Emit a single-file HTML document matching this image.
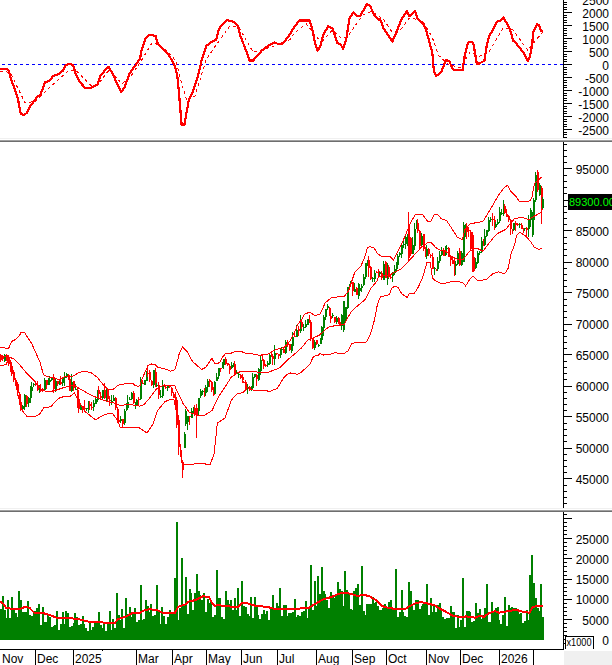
<!DOCTYPE html><html><head><meta charset="utf-8"><style>html,body{margin:0;padding:0;background:#fff;width:612px;height:665px;overflow:hidden}svg{display:block}text{font-family:"Liberation Sans",sans-serif}</style></head><body>
<svg width="612" height="665" viewBox="0 0 612 665">
<rect width="612" height="665" fill="#fff"/>
<defs><clipPath id="c1"><rect x="0" y="0" width="563" height="138"/></clipPath><clipPath id="c2"><rect x="0" y="142" width="563" height="366"/></clipPath><clipPath id="c3"><rect x="0" y="512" width="563" height="137"/></clipPath></defs>
<g clip-path="url(#c1)">
<line x1="2" y1="64.5" x2="563" y2="64.5" stroke="#0000ff" stroke-width="1" stroke-dasharray="3 3" shape-rendering="crispEdges"/>
<polyline points="0.0,71.4 4.5,71.4 10.8,73.2 16.2,85.0 25.3,103.0 36.1,101.2 50.5,86.8 68.6,70.5 75.8,70.5 90.3,85.0 97.5,85.0 105.8,74.2 109.4,69.6 122.0,84.0 131.0,76.0 141.9,59.7 152.8,41.7 167.2,50.7 176.2,61.5 181.6,83.2 187.0,101.2 195.0,95.8 199.0,83.0 206.2,59.6 213.5,48.7 229.7,26.2 238.7,27.1 253.2,52.3 265.8,48.7 276.6,45.1 290.0,39.7 294.8,32.7 306.2,23.7 317.7,38.4 322.6,40.8 332.4,30.2 340.6,37.6 347.1,37.6 353.6,27.8 363.4,14.7 371.6,11.4 383.0,18.8 391.4,31.0 399.6,31.0 409.4,18.0 422.5,20.4 432.3,37.6 438.8,55.6 448.6,64.5 460.0,67.8 469.9,52.3 479.1,56.2 488.2,53.2 503.4,27.4 512.6,29.6 527.8,50.2 541.4,33.4" fill="none" stroke="#ff0000" stroke-width="1" stroke-dasharray="3 3" shape-rendering="crispEdges"/>
<polyline points="0.0,68.7 7.2,68.7 9.0,71.4 11.7,81.4 15.3,90.4 18.0,99.4 20.8,113.9 23.5,114.8 27.0,113.0 29.8,106.6 33.4,102.1 37.9,95.8 39.7,96.7 45.1,82.3 49.6,80.5 53.2,76.0 58.7,74.2 63.2,70.5 65.0,66.0 69.5,63.7 73.1,65.1 75.8,74.2 79.4,81.4 84.8,87.7 91.2,87.7 95.0,85.9 97.7,84.1 100.4,76.0 104.0,71.4 108.5,66.9 113.0,74.2 117.6,85.0 121.2,92.2 124.8,86.8 129.3,74.2 132.9,68.7 140.1,58.8 141.0,52.5 145.5,38.0 149.2,34.8 155.5,35.9 158.2,44.4 163.6,49.8 169.0,55.2 174.4,65.1 177.1,74.2 178.9,92.2 181.6,124.7 184.4,124.7 188.9,99.4 192.5,92.2 195.4,83.9 199.0,72.2 201.7,59.6 206.2,46.0 211.7,41.9 216.2,39.7 218.9,28.9 223.4,23.5 227.0,20.2 233.3,21.7 237.8,26.2 240.5,36.1 246.0,50.5 249.6,60.5 253.2,60.5 258.6,54.2 262.2,50.2 269.4,45.1 274.8,42.4 278.4,44.2 283.0,43.3 289.9,34.3 294.8,26.1 299.7,20.4 309.5,20.4 312.8,31.0 315.2,44.1 317.7,50.7 320.1,46.6 323.4,34.3 328.3,26.1 332.4,28.6 337.3,43.3 340.6,44.1 343.0,49.0 346.3,39.2 349.5,18.0 353.6,12.3 356.9,16.3 360.2,16.3 366.7,4.1 370.0,5.7 374.9,16.3 379.0,19.6 380.0,18.8 383.3,27.8 388.2,35.1 392.3,41.7 396.3,32.7 401.2,19.6 407.0,11.1 409.4,16.3 415.1,11.1 417.6,18.8 422.5,22.9 425.8,28.6 429.0,40.8 432.3,52.3 433.9,71.9 436.4,76.0 441.3,71.9 446.2,59.6 449.4,61.3 452.7,69.4 456.8,70.3 462.5,70.3 465.0,53.9 468.2,42.5 472.3,41.7 473.8,45.6 476.8,63.8 479.1,63.5 484.4,60.8 486.7,45.6 489.0,36.5 492.0,31.2 496.6,22.0 500.4,20.5 503.4,17.5 506.5,22.8 510.3,30.4 513.3,41.0 515.6,42.6 523.2,52.4 527.8,60.8 530.0,56.2 532.3,44.1 533.1,31.9 536.9,24.3 539.1,25.1 540.7,30.4 543.0,31.9" fill="none" stroke="#ff0000" stroke-width="2.2" stroke-linejoin="round" shape-rendering="crispEdges"/>
</g>
<g clip-path="url(#c2)" shape-rendering="crispEdges">
<rect x="0" y="354" width="1" height="8" fill="#ff0000"/>
<rect x="-0.5" y="355" width="2" height="5" fill="#ff0000"/>
<rect x="2" y="355" width="1" height="6" fill="#ff0000"/>
<rect x="1.5" y="356" width="2" height="3" fill="#ff0000"/>
<rect x="4" y="354" width="1" height="8" fill="#008000"/>
<rect x="3.5" y="355" width="2" height="6" fill="#008000"/>
<rect x="6" y="354" width="1" height="7" fill="#ff0000"/>
<rect x="5.5" y="355" width="2" height="5" fill="#ff0000"/>
<rect x="8" y="355" width="1" height="11" fill="#ff0000"/>
<rect x="7.5" y="357" width="2" height="7" fill="#ff0000"/>
<rect x="10" y="360" width="1" height="12" fill="#ff0000"/>
<rect x="9.5" y="362" width="2" height="8" fill="#ff0000"/>
<rect x="11" y="364" width="1" height="12" fill="#ff0000"/>
<rect x="10.5" y="366" width="2" height="8" fill="#ff0000"/>
<rect x="13" y="370" width="1" height="12" fill="#ff0000"/>
<rect x="12.5" y="372" width="2" height="8" fill="#ff0000"/>
<rect x="15" y="378" width="1" height="8" fill="#ff0000"/>
<rect x="14.5" y="380" width="2" height="5" fill="#ff0000"/>
<rect x="17" y="382" width="1" height="14" fill="#ff0000"/>
<rect x="16.5" y="384" width="2" height="9" fill="#ff0000"/>
<rect x="19" y="392" width="1" height="13" fill="#ff0000"/>
<rect x="18.5" y="394" width="2" height="8" fill="#ff0000"/>
<rect x="20" y="397" width="1" height="14" fill="#ff0000"/>
<rect x="19.5" y="402" width="2" height="8" fill="#ff0000"/>
<rect x="22" y="405" width="1" height="4" fill="#008000"/>
<rect x="21.5" y="406" width="2" height="3" fill="#008000"/>
<rect x="24" y="394" width="1" height="16" fill="#008000"/>
<rect x="23.5" y="395" width="2" height="12" fill="#008000"/>
<rect x="26" y="395" width="1" height="12" fill="#ff0000"/>
<rect x="25.5" y="396" width="2" height="8" fill="#ff0000"/>
<rect x="28" y="397" width="1" height="10" fill="#008000"/>
<rect x="27.5" y="398" width="2" height="5" fill="#008000"/>
<rect x="30" y="386" width="1" height="17" fill="#008000"/>
<rect x="29.5" y="390" width="2" height="8" fill="#008000"/>
<rect x="31" y="382" width="1" height="9" fill="#008000"/>
<rect x="30.5" y="387" width="2" height="4" fill="#008000"/>
<rect x="33" y="383" width="1" height="4" fill="#008000"/>
<rect x="32.5" y="384" width="2" height="1" fill="#008000"/>
<rect x="35" y="381" width="1" height="5" fill="#ff0000"/>
<rect x="34.5" y="384" width="2" height="1" fill="#ff0000"/>
<rect x="37" y="381" width="1" height="10" fill="#ff0000"/>
<rect x="36.5" y="386" width="2" height="4" fill="#ff0000"/>
<rect x="39" y="385" width="1" height="8" fill="#008000"/>
<rect x="38.5" y="390" width="2" height="1" fill="#008000"/>
<rect x="40" y="384" width="1" height="8" fill="#ff0000"/>
<rect x="39.5" y="390" width="2" height="1" fill="#ff0000"/>
<rect x="42" y="388" width="1" height="4" fill="#ff0000"/>
<rect x="41.5" y="389" width="2" height="1" fill="#ff0000"/>
<rect x="44" y="378" width="1" height="12" fill="#008000"/>
<rect x="43.5" y="380" width="2" height="10" fill="#008000"/>
<rect x="46" y="380" width="1" height="9" fill="#ff0000"/>
<rect x="45.5" y="380" width="2" height="5" fill="#ff0000"/>
<rect x="48" y="378" width="1" height="7" fill="#008000"/>
<rect x="47.5" y="381" width="2" height="4" fill="#008000"/>
<rect x="49" y="376" width="1" height="7" fill="#008000"/>
<rect x="48.5" y="380" width="2" height="2" fill="#008000"/>
<rect x="51" y="378" width="1" height="3" fill="#008000"/>
<rect x="50.5" y="378" width="2" height="2" fill="#008000"/>
<rect x="53" y="374" width="1" height="19" fill="#ff0000"/>
<rect x="52.5" y="377" width="2" height="12" fill="#ff0000"/>
<rect x="55" y="378" width="1" height="14" fill="#008000"/>
<rect x="54.5" y="381" width="2" height="9" fill="#008000"/>
<rect x="57" y="381" width="1" height="5" fill="#ff0000"/>
<rect x="56.5" y="381" width="2" height="3" fill="#ff0000"/>
<rect x="59" y="380" width="1" height="5" fill="#008000"/>
<rect x="58.5" y="381" width="2" height="3" fill="#008000"/>
<rect x="60" y="376" width="1" height="9" fill="#ff0000"/>
<rect x="59.5" y="382" width="2" height="2" fill="#ff0000"/>
<rect x="62" y="378" width="1" height="8" fill="#008000"/>
<rect x="61.5" y="378" width="2" height="5" fill="#008000"/>
<rect x="64" y="372" width="1" height="14" fill="#008000"/>
<rect x="63.5" y="377" width="2" height="1" fill="#008000"/>
<rect x="66" y="373" width="1" height="5" fill="#008000"/>
<rect x="65.5" y="374" width="2" height="3" fill="#008000"/>
<rect x="68" y="374" width="1" height="6" fill="#ff0000"/>
<rect x="67.5" y="375" width="2" height="4" fill="#ff0000"/>
<rect x="69" y="377" width="1" height="14" fill="#ff0000"/>
<rect x="68.5" y="379" width="2" height="12" fill="#ff0000"/>
<rect x="71" y="374" width="1" height="18" fill="#008000"/>
<rect x="70.5" y="382" width="2" height="9" fill="#008000"/>
<rect x="73" y="381" width="1" height="10" fill="#ff0000"/>
<rect x="72.5" y="381" width="2" height="7" fill="#ff0000"/>
<rect x="75" y="384" width="1" height="6" fill="#008000"/>
<rect x="74.5" y="389" width="2" height="1" fill="#008000"/>
<rect x="77" y="387" width="1" height="21" fill="#ff0000"/>
<rect x="76.5" y="390" width="2" height="11" fill="#ff0000"/>
<rect x="78" y="397" width="1" height="16" fill="#ff0000"/>
<rect x="77.5" y="399" width="2" height="10" fill="#ff0000"/>
<rect x="80" y="405" width="1" height="5" fill="#008000"/>
<rect x="79.5" y="406" width="2" height="4" fill="#008000"/>
<rect x="82" y="406" width="1" height="7" fill="#ff0000"/>
<rect x="81.5" y="406" width="2" height="2" fill="#ff0000"/>
<rect x="84" y="400" width="1" height="12" fill="#ff0000"/>
<rect x="83.5" y="408" width="2" height="1" fill="#ff0000"/>
<rect x="86" y="408" width="1" height="3" fill="#008000"/>
<rect x="85.5" y="408" width="2" height="1" fill="#008000"/>
<rect x="88" y="401" width="1" height="12" fill="#008000"/>
<rect x="87.5" y="405" width="2" height="4" fill="#008000"/>
<rect x="89" y="401" width="1" height="9" fill="#ff0000"/>
<rect x="88.5" y="404" width="2" height="2" fill="#ff0000"/>
<rect x="91" y="402" width="1" height="8" fill="#ff0000"/>
<rect x="90.5" y="407" width="2" height="1" fill="#ff0000"/>
<rect x="93" y="400" width="1" height="11" fill="#008000"/>
<rect x="92.5" y="403" width="2" height="4" fill="#008000"/>
<rect x="95" y="396" width="1" height="8" fill="#008000"/>
<rect x="94.5" y="399" width="2" height="5" fill="#008000"/>
<rect x="97" y="390" width="1" height="12" fill="#008000"/>
<rect x="96.5" y="390" width="2" height="10" fill="#008000"/>
<rect x="98" y="386" width="1" height="12" fill="#ff0000"/>
<rect x="97.5" y="390" width="2" height="4" fill="#ff0000"/>
<rect x="100" y="392" width="1" height="6" fill="#ff0000"/>
<rect x="99.5" y="396" width="2" height="2" fill="#ff0000"/>
<rect x="102" y="390" width="1" height="9" fill="#008000"/>
<rect x="101.5" y="390" width="2" height="8" fill="#008000"/>
<rect x="104" y="383" width="1" height="16" fill="#ff0000"/>
<rect x="103.5" y="390" width="2" height="8" fill="#ff0000"/>
<rect x="106" y="388" width="1" height="13" fill="#008000"/>
<rect x="105.5" y="389" width="2" height="10" fill="#008000"/>
<rect x="107" y="389" width="1" height="13" fill="#ff0000"/>
<rect x="106.5" y="390" width="2" height="9" fill="#ff0000"/>
<rect x="109" y="396" width="1" height="10" fill="#ff0000"/>
<rect x="108.5" y="400" width="2" height="1" fill="#ff0000"/>
<rect x="111" y="395" width="1" height="10" fill="#008000"/>
<rect x="110.5" y="401" width="2" height="1" fill="#008000"/>
<rect x="113" y="395" width="1" height="6" fill="#008000"/>
<rect x="112.5" y="398" width="2" height="3" fill="#008000"/>
<rect x="115" y="397" width="1" height="13" fill="#ff0000"/>
<rect x="114.5" y="398" width="2" height="10" fill="#ff0000"/>
<rect x="117" y="407" width="1" height="16" fill="#ff0000"/>
<rect x="116.5" y="409" width="2" height="12" fill="#ff0000"/>
<rect x="118" y="418" width="1" height="6" fill="#ff0000"/>
<rect x="117.5" y="420" width="2" height="2" fill="#ff0000"/>
<rect x="120" y="416" width="1" height="7" fill="#008000"/>
<rect x="119.5" y="419" width="2" height="2" fill="#008000"/>
<rect x="122" y="419" width="1" height="8" fill="#ff0000"/>
<rect x="121.5" y="419" width="2" height="5" fill="#ff0000"/>
<rect x="124" y="409" width="1" height="16" fill="#008000"/>
<rect x="123.5" y="411" width="2" height="12" fill="#008000"/>
<rect x="126" y="403" width="1" height="8" fill="#008000"/>
<rect x="125.5" y="407" width="2" height="3" fill="#008000"/>
<rect x="127" y="395" width="1" height="13" fill="#008000"/>
<rect x="126.5" y="402" width="2" height="6" fill="#008000"/>
<rect x="129" y="397" width="1" height="3" fill="#008000"/>
<rect x="128.5" y="399" width="2" height="1" fill="#008000"/>
<rect x="131" y="392" width="1" height="8" fill="#008000"/>
<rect x="130.5" y="393" width="2" height="6" fill="#008000"/>
<rect x="133" y="391" width="1" height="13" fill="#ff0000"/>
<rect x="132.5" y="393" width="2" height="10" fill="#ff0000"/>
<rect x="135" y="402" width="1" height="7" fill="#008000"/>
<rect x="134.5" y="403" width="2" height="1" fill="#008000"/>
<rect x="136" y="399" width="1" height="7" fill="#008000"/>
<rect x="135.5" y="400" width="2" height="5" fill="#008000"/>
<rect x="138" y="397" width="1" height="9" fill="#ff0000"/>
<rect x="137.5" y="399" width="2" height="1" fill="#ff0000"/>
<rect x="140" y="377" width="1" height="23" fill="#008000"/>
<rect x="139.5" y="382" width="2" height="17" fill="#008000"/>
<rect x="142" y="380" width="1" height="4" fill="#ff0000"/>
<rect x="141.5" y="383" width="2" height="1" fill="#ff0000"/>
<rect x="144" y="380" width="1" height="5" fill="#008000"/>
<rect x="143.5" y="380" width="2" height="5" fill="#008000"/>
<rect x="146" y="371" width="1" height="10" fill="#008000"/>
<rect x="145.5" y="374" width="2" height="7" fill="#008000"/>
<rect x="147" y="365" width="1" height="12" fill="#ff0000"/>
<rect x="146.5" y="373" width="2" height="1" fill="#ff0000"/>
<rect x="149" y="370" width="1" height="12" fill="#ff0000"/>
<rect x="148.5" y="372" width="2" height="8" fill="#ff0000"/>
<rect x="151" y="380" width="1" height="6" fill="#ff0000"/>
<rect x="150.5" y="381" width="2" height="4" fill="#ff0000"/>
<rect x="153" y="370" width="1" height="18" fill="#008000"/>
<rect x="152.5" y="370" width="2" height="15" fill="#008000"/>
<rect x="155" y="368" width="1" height="19" fill="#ff0000"/>
<rect x="154.5" y="372" width="2" height="13" fill="#ff0000"/>
<rect x="156" y="383" width="1" height="4" fill="#008000"/>
<rect x="155.5" y="385" width="2" height="1" fill="#008000"/>
<rect x="158" y="382" width="1" height="17" fill="#ff0000"/>
<rect x="157.5" y="385" width="2" height="10" fill="#ff0000"/>
<rect x="160" y="390" width="1" height="8" fill="#008000"/>
<rect x="159.5" y="396" width="2" height="1" fill="#008000"/>
<rect x="162" y="380" width="1" height="18" fill="#008000"/>
<rect x="161.5" y="386" width="2" height="10" fill="#008000"/>
<rect x="164" y="384" width="1" height="3" fill="#ff0000"/>
<rect x="163.5" y="386" width="2" height="1" fill="#ff0000"/>
<rect x="165" y="386" width="1" height="3" fill="#ff0000"/>
<rect x="164.5" y="387" width="2" height="1" fill="#ff0000"/>
<rect x="167" y="386" width="1" height="5" fill="#008000"/>
<rect x="166.5" y="386" width="2" height="2" fill="#008000"/>
<rect x="169" y="386" width="1" height="2" fill="#ff0000"/>
<rect x="168.5" y="386" width="2" height="1" fill="#ff0000"/>
<rect x="171" y="387" width="1" height="9" fill="#ff0000"/>
<rect x="170.5" y="388" width="2" height="5" fill="#ff0000"/>
<rect x="173" y="392" width="1" height="6" fill="#ff0000"/>
<rect x="172.5" y="394" width="2" height="4" fill="#ff0000"/>
<rect x="175" y="392" width="1" height="13" fill="#ff0000"/>
<rect x="174.5" y="397" width="2" height="8" fill="#ff0000"/>
<rect x="176" y="398" width="1" height="30" fill="#ff0000"/>
<rect x="175.5" y="400" width="2" height="25" fill="#ff0000"/>
<rect x="178" y="415" width="1" height="40" fill="#ff0000"/>
<rect x="177.5" y="420" width="2" height="27" fill="#ff0000"/>
<rect x="180" y="448" width="1" height="9" fill="#ff0000"/>
<rect x="179.5" y="450" width="2" height="5" fill="#ff0000"/>
<rect x="182" y="460" width="1" height="18" fill="#ff0000"/>
<rect x="181.5" y="462" width="2" height="8" fill="#ff0000"/>
<rect x="184" y="432" width="1" height="16" fill="#008000"/>
<rect x="183.5" y="434" width="2" height="14" fill="#008000"/>
<rect x="185" y="409" width="1" height="17" fill="#008000"/>
<rect x="184.5" y="411" width="2" height="13" fill="#008000"/>
<rect x="187" y="416" width="1" height="14" fill="#008000"/>
<rect x="186.5" y="416" width="2" height="6" fill="#008000"/>
<rect x="189" y="416" width="1" height="9" fill="#ff0000"/>
<rect x="188.5" y="416" width="2" height="1" fill="#ff0000"/>
<rect x="191" y="408" width="1" height="10" fill="#008000"/>
<rect x="190.5" y="411" width="2" height="7" fill="#008000"/>
<rect x="193" y="407" width="1" height="7" fill="#008000"/>
<rect x="192.5" y="408" width="2" height="3" fill="#008000"/>
<rect x="194" y="405" width="1" height="11" fill="#ff0000"/>
<rect x="193.5" y="408" width="2" height="7" fill="#ff0000"/>
<rect x="196" y="404" width="1" height="34" fill="#ff0000"/>
<rect x="195.5" y="408" width="2" height="6" fill="#ff0000"/>
<rect x="198" y="398" width="1" height="17" fill="#008000"/>
<rect x="197.5" y="398" width="2" height="13" fill="#008000"/>
<rect x="200" y="389" width="1" height="9" fill="#008000"/>
<rect x="199.5" y="391" width="2" height="5" fill="#008000"/>
<rect x="202" y="390" width="1" height="5" fill="#008000"/>
<rect x="201.5" y="391" width="2" height="1" fill="#008000"/>
<rect x="204" y="388" width="1" height="9" fill="#ff0000"/>
<rect x="203.5" y="391" width="2" height="4" fill="#ff0000"/>
<rect x="205" y="385" width="1" height="11" fill="#008000"/>
<rect x="204.5" y="387" width="2" height="6" fill="#008000"/>
<rect x="207" y="379" width="1" height="13" fill="#008000"/>
<rect x="206.5" y="381" width="2" height="6" fill="#008000"/>
<rect x="209" y="379" width="1" height="8" fill="#ff0000"/>
<rect x="208.5" y="380" width="2" height="2" fill="#ff0000"/>
<rect x="211" y="381" width="1" height="11" fill="#ff0000"/>
<rect x="210.5" y="382" width="2" height="8" fill="#ff0000"/>
<rect x="213" y="387" width="1" height="9" fill="#ff0000"/>
<rect x="212.5" y="391" width="2" height="4" fill="#ff0000"/>
<rect x="214" y="381" width="1" height="13" fill="#008000"/>
<rect x="213.5" y="382" width="2" height="12" fill="#008000"/>
<rect x="216" y="373" width="1" height="7" fill="#008000"/>
<rect x="215.5" y="377" width="2" height="4" fill="#008000"/>
<rect x="218" y="368" width="1" height="11" fill="#008000"/>
<rect x="217.5" y="368" width="2" height="8" fill="#008000"/>
<rect x="220" y="368" width="1" height="4" fill="#ff0000"/>
<rect x="219.5" y="368" width="2" height="1" fill="#ff0000"/>
<rect x="222" y="362" width="1" height="6" fill="#008000"/>
<rect x="221.5" y="365" width="2" height="3" fill="#008000"/>
<rect x="223" y="359" width="1" height="10" fill="#008000"/>
<rect x="222.5" y="359" width="2" height="6" fill="#008000"/>
<rect x="225" y="357" width="1" height="8" fill="#ff0000"/>
<rect x="224.5" y="359" width="2" height="5" fill="#ff0000"/>
<rect x="227" y="363" width="1" height="3" fill="#ff0000"/>
<rect x="226.5" y="363" width="2" height="2" fill="#ff0000"/>
<rect x="229" y="364" width="1" height="10" fill="#ff0000"/>
<rect x="228.5" y="366" width="2" height="4" fill="#ff0000"/>
<rect x="231" y="362" width="1" height="7" fill="#008000"/>
<rect x="230.5" y="365" width="2" height="3" fill="#008000"/>
<rect x="233" y="363" width="1" height="4" fill="#008000"/>
<rect x="232.5" y="365" width="2" height="1" fill="#008000"/>
<rect x="234" y="361" width="1" height="15" fill="#ff0000"/>
<rect x="233.5" y="364" width="2" height="11" fill="#ff0000"/>
<rect x="236" y="370" width="1" height="4" fill="#008000"/>
<rect x="235.5" y="373" width="2" height="1" fill="#008000"/>
<rect x="238" y="373" width="1" height="5" fill="#008000"/>
<rect x="237.5" y="374" width="2" height="1" fill="#008000"/>
<rect x="240" y="374" width="1" height="5" fill="#ff0000"/>
<rect x="239.5" y="375" width="2" height="3" fill="#ff0000"/>
<rect x="242" y="374" width="1" height="9" fill="#ff0000"/>
<rect x="241.5" y="377" width="2" height="3" fill="#ff0000"/>
<rect x="243" y="381" width="1" height="1" fill="#ff0000"/>
<rect x="242.5" y="382" width="2" height="1" fill="#ff0000"/>
<rect x="245" y="380" width="1" height="9" fill="#ff0000"/>
<rect x="244.5" y="382" width="2" height="6" fill="#ff0000"/>
<rect x="247" y="384" width="1" height="10" fill="#008000"/>
<rect x="246.5" y="387" width="2" height="2" fill="#008000"/>
<rect x="249" y="386" width="1" height="5" fill="#ff0000"/>
<rect x="248.5" y="387" width="2" height="3" fill="#ff0000"/>
<rect x="251" y="386" width="1" height="5" fill="#008000"/>
<rect x="250.5" y="388" width="2" height="1" fill="#008000"/>
<rect x="252" y="373" width="1" height="15" fill="#008000"/>
<rect x="251.5" y="377" width="2" height="11" fill="#008000"/>
<rect x="254" y="374" width="1" height="4" fill="#008000"/>
<rect x="253.5" y="374" width="2" height="3" fill="#008000"/>
<rect x="256" y="374" width="1" height="12" fill="#ff0000"/>
<rect x="255.5" y="375" width="2" height="4" fill="#ff0000"/>
<rect x="258" y="368" width="1" height="13" fill="#008000"/>
<rect x="257.5" y="369" width="2" height="11" fill="#008000"/>
<rect x="260" y="356" width="1" height="19" fill="#008000"/>
<rect x="259.5" y="360" width="2" height="11" fill="#008000"/>
<rect x="262" y="355" width="1" height="6" fill="#ff0000"/>
<rect x="261.5" y="359" width="2" height="2" fill="#ff0000"/>
<rect x="263" y="360" width="1" height="9" fill="#ff0000"/>
<rect x="262.5" y="360" width="2" height="6" fill="#ff0000"/>
<rect x="265" y="364" width="1" height="3" fill="#ff0000"/>
<rect x="264.5" y="365" width="2" height="1" fill="#ff0000"/>
<rect x="267" y="361" width="1" height="6" fill="#008000"/>
<rect x="266.5" y="363" width="2" height="2" fill="#008000"/>
<rect x="269" y="353" width="1" height="12" fill="#008000"/>
<rect x="268.5" y="355" width="2" height="9" fill="#008000"/>
<rect x="271" y="352" width="1" height="5" fill="#ff0000"/>
<rect x="270.5" y="355" width="2" height="1" fill="#ff0000"/>
<rect x="272" y="354" width="1" height="11" fill="#ff0000"/>
<rect x="271.5" y="356" width="2" height="3" fill="#ff0000"/>
<rect x="274" y="345" width="1" height="20" fill="#008000"/>
<rect x="273.5" y="353" width="2" height="6" fill="#008000"/>
<rect x="276" y="353" width="1" height="2" fill="#ff0000"/>
<rect x="275.5" y="353" width="2" height="1" fill="#ff0000"/>
<rect x="278" y="354" width="1" height="5" fill="#ff0000"/>
<rect x="277.5" y="354" width="2" height="2" fill="#ff0000"/>
<rect x="280" y="349" width="1" height="9" fill="#008000"/>
<rect x="279.5" y="349" width="2" height="6" fill="#008000"/>
<rect x="281" y="347" width="1" height="5" fill="#008000"/>
<rect x="280.5" y="349" width="2" height="1" fill="#008000"/>
<rect x="283" y="348" width="1" height="5" fill="#ff0000"/>
<rect x="282.5" y="349" width="2" height="4" fill="#ff0000"/>
<rect x="285" y="340" width="1" height="14" fill="#008000"/>
<rect x="284.5" y="342" width="2" height="11" fill="#008000"/>
<rect x="287" y="340" width="1" height="7" fill="#ff0000"/>
<rect x="286.5" y="342" width="2" height="3" fill="#ff0000"/>
<rect x="289" y="344" width="1" height="7" fill="#ff0000"/>
<rect x="288.5" y="344" width="2" height="6" fill="#ff0000"/>
<rect x="291" y="344" width="1" height="9" fill="#008000"/>
<rect x="290.5" y="346" width="2" height="4" fill="#008000"/>
<rect x="292" y="332" width="1" height="19" fill="#008000"/>
<rect x="291.5" y="337" width="2" height="9" fill="#008000"/>
<rect x="294" y="333" width="1" height="3" fill="#ff0000"/>
<rect x="293.5" y="336" width="2" height="1" fill="#ff0000"/>
<rect x="296" y="325" width="1" height="12" fill="#008000"/>
<rect x="295.5" y="330" width="2" height="7" fill="#008000"/>
<rect x="298" y="326" width="1" height="10" fill="#ff0000"/>
<rect x="297.5" y="329" width="2" height="2" fill="#ff0000"/>
<rect x="300" y="315" width="1" height="18" fill="#008000"/>
<rect x="299.5" y="320" width="2" height="11" fill="#008000"/>
<rect x="301" y="321" width="1" height="8" fill="#ff0000"/>
<rect x="300.5" y="322" width="2" height="5" fill="#ff0000"/>
<rect x="303" y="324" width="1" height="7" fill="#008000"/>
<rect x="302.5" y="327" width="2" height="1" fill="#008000"/>
<rect x="305" y="320" width="1" height="8" fill="#008000"/>
<rect x="304.5" y="324" width="2" height="3" fill="#008000"/>
<rect x="307" y="319" width="1" height="6" fill="#008000"/>
<rect x="306.5" y="319" width="2" height="6" fill="#008000"/>
<rect x="309" y="315" width="1" height="8" fill="#ff0000"/>
<rect x="308.5" y="320" width="2" height="3" fill="#ff0000"/>
<rect x="310" y="322" width="1" height="19" fill="#ff0000"/>
<rect x="309.5" y="322" width="2" height="16" fill="#ff0000"/>
<rect x="312" y="338" width="1" height="11" fill="#ff0000"/>
<rect x="311.5" y="338" width="2" height="10" fill="#ff0000"/>
<rect x="314" y="340" width="1" height="10" fill="#008000"/>
<rect x="313.5" y="342" width="2" height="6" fill="#008000"/>
<rect x="316" y="340" width="1" height="5" fill="#ff0000"/>
<rect x="315.5" y="340" width="2" height="4" fill="#ff0000"/>
<rect x="318" y="344" width="1" height="3" fill="#008000"/>
<rect x="317.5" y="345" width="2" height="1" fill="#008000"/>
<rect x="320" y="338" width="1" height="6" fill="#008000"/>
<rect x="319.5" y="340" width="2" height="4" fill="#008000"/>
<rect x="321" y="326" width="1" height="16" fill="#008000"/>
<rect x="320.5" y="327" width="2" height="13" fill="#008000"/>
<rect x="323" y="315" width="1" height="21" fill="#008000"/>
<rect x="322.5" y="317" width="2" height="11" fill="#008000"/>
<rect x="325" y="309" width="1" height="11" fill="#008000"/>
<rect x="324.5" y="309" width="2" height="8" fill="#008000"/>
<rect x="327" y="304" width="1" height="6" fill="#008000"/>
<rect x="326.5" y="306" width="2" height="2" fill="#008000"/>
<rect x="329" y="307" width="1" height="9" fill="#ff0000"/>
<rect x="328.5" y="308" width="2" height="8" fill="#ff0000"/>
<rect x="330" y="311" width="1" height="12" fill="#ff0000"/>
<rect x="329.5" y="316" width="2" height="3" fill="#ff0000"/>
<rect x="332" y="313" width="1" height="5" fill="#008000"/>
<rect x="331.5" y="315" width="2" height="1" fill="#008000"/>
<rect x="334" y="317" width="1" height="6" fill="#ff0000"/>
<rect x="333.5" y="317" width="2" height="5" fill="#ff0000"/>
<rect x="336" y="316" width="1" height="8" fill="#008000"/>
<rect x="335.5" y="318" width="2" height="4" fill="#008000"/>
<rect x="338" y="317" width="1" height="7" fill="#ff0000"/>
<rect x="337.5" y="318" width="2" height="4" fill="#ff0000"/>
<rect x="339" y="320" width="1" height="6" fill="#ff0000"/>
<rect x="338.5" y="322" width="2" height="4" fill="#ff0000"/>
<rect x="341" y="314" width="1" height="16" fill="#008000"/>
<rect x="340.5" y="315" width="2" height="11" fill="#008000"/>
<rect x="343" y="301" width="1" height="31" fill="#008000"/>
<rect x="342.5" y="301" width="2" height="29" fill="#008000"/>
<rect x="345" y="307" width="1" height="14" fill="#008000"/>
<rect x="344.5" y="307" width="2" height="13" fill="#008000"/>
<rect x="347" y="287" width="1" height="22" fill="#008000"/>
<rect x="346.5" y="287" width="2" height="21" fill="#008000"/>
<rect x="349" y="284" width="1" height="4" fill="#008000"/>
<rect x="348.5" y="286" width="2" height="1" fill="#008000"/>
<rect x="350" y="281" width="1" height="5" fill="#008000"/>
<rect x="349.5" y="282" width="2" height="2" fill="#008000"/>
<rect x="352" y="282" width="1" height="14" fill="#ff0000"/>
<rect x="351.5" y="282" width="2" height="9" fill="#ff0000"/>
<rect x="354" y="283" width="1" height="8" fill="#008000"/>
<rect x="353.5" y="289" width="2" height="3" fill="#008000"/>
<rect x="356" y="287" width="1" height="8" fill="#ff0000"/>
<rect x="355.5" y="288" width="2" height="7" fill="#ff0000"/>
<rect x="358" y="283" width="1" height="16" fill="#008000"/>
<rect x="357.5" y="290" width="2" height="6" fill="#008000"/>
<rect x="359" y="284" width="1" height="8" fill="#008000"/>
<rect x="358.5" y="288" width="2" height="3" fill="#008000"/>
<rect x="361" y="284" width="1" height="8" fill="#008000"/>
<rect x="360.5" y="286" width="2" height="2" fill="#008000"/>
<rect x="363" y="274" width="1" height="12" fill="#008000"/>
<rect x="362.5" y="277" width="2" height="8" fill="#008000"/>
<rect x="365" y="263" width="1" height="16" fill="#008000"/>
<rect x="364.5" y="263" width="2" height="14" fill="#008000"/>
<rect x="367" y="260" width="1" height="6" fill="#008000"/>
<rect x="366.5" y="260" width="2" height="4" fill="#008000"/>
<rect x="368" y="256" width="1" height="21" fill="#ff0000"/>
<rect x="367.5" y="260" width="2" height="8" fill="#ff0000"/>
<rect x="370" y="266" width="1" height="14" fill="#ff0000"/>
<rect x="369.5" y="267" width="2" height="12" fill="#ff0000"/>
<rect x="372" y="277" width="1" height="5" fill="#008000"/>
<rect x="371.5" y="278" width="2" height="1" fill="#008000"/>
<rect x="374" y="270" width="1" height="12" fill="#008000"/>
<rect x="373.5" y="273" width="2" height="6" fill="#008000"/>
<rect x="376" y="271" width="1" height="2" fill="#ff0000"/>
<rect x="375.5" y="272" width="2" height="1" fill="#ff0000"/>
<rect x="378" y="269" width="1" height="7" fill="#ff0000"/>
<rect x="377.5" y="271" width="2" height="3" fill="#ff0000"/>
<rect x="379" y="272" width="1" height="4" fill="#008000"/>
<rect x="378.5" y="272" width="2" height="2" fill="#008000"/>
<rect x="381" y="271" width="1" height="9" fill="#ff0000"/>
<rect x="380.5" y="273" width="2" height="5" fill="#ff0000"/>
<rect x="383" y="261" width="1" height="19" fill="#008000"/>
<rect x="382.5" y="264" width="2" height="16" fill="#008000"/>
<rect x="385" y="261" width="1" height="17" fill="#ff0000"/>
<rect x="384.5" y="262" width="2" height="16" fill="#ff0000"/>
<rect x="387" y="263" width="1" height="22" fill="#008000"/>
<rect x="386.5" y="267" width="2" height="12" fill="#008000"/>
<rect x="388" y="265" width="1" height="13" fill="#ff0000"/>
<rect x="387.5" y="267" width="2" height="10" fill="#ff0000"/>
<rect x="390" y="274" width="1" height="5" fill="#ff0000"/>
<rect x="389.5" y="277" width="2" height="1" fill="#ff0000"/>
<rect x="392" y="272" width="1" height="10" fill="#008000"/>
<rect x="391.5" y="272" width="2" height="4" fill="#008000"/>
<rect x="394" y="265" width="1" height="10" fill="#008000"/>
<rect x="393.5" y="269" width="2" height="4" fill="#008000"/>
<rect x="396" y="262" width="1" height="9" fill="#008000"/>
<rect x="395.5" y="263" width="2" height="6" fill="#008000"/>
<rect x="397" y="254" width="1" height="12" fill="#008000"/>
<rect x="396.5" y="256" width="2" height="9" fill="#008000"/>
<rect x="399" y="252" width="1" height="5" fill="#008000"/>
<rect x="398.5" y="253" width="2" height="2" fill="#008000"/>
<rect x="401" y="243" width="1" height="15" fill="#008000"/>
<rect x="400.5" y="245" width="2" height="9" fill="#008000"/>
<rect x="403" y="241" width="1" height="7" fill="#008000"/>
<rect x="402.5" y="244" width="2" height="1" fill="#008000"/>
<rect x="405" y="235" width="1" height="14" fill="#008000"/>
<rect x="404.5" y="237" width="2" height="7" fill="#008000"/>
<rect x="407" y="234" width="1" height="12" fill="#008000"/>
<rect x="406.5" y="237" width="2" height="1" fill="#008000"/>
<rect x="408" y="212" width="1" height="50" fill="#ff0000"/>
<rect x="407.5" y="225" width="2" height="33" fill="#ff0000"/>
<rect x="410" y="237" width="1" height="19" fill="#ff0000"/>
<rect x="409.5" y="238" width="2" height="16" fill="#ff0000"/>
<rect x="412" y="237" width="1" height="16" fill="#008000"/>
<rect x="411.5" y="245" width="2" height="9" fill="#008000"/>
<rect x="414" y="223" width="1" height="27" fill="#008000"/>
<rect x="413.5" y="229" width="2" height="17" fill="#008000"/>
<rect x="416" y="220" width="1" height="9" fill="#008000"/>
<rect x="415.5" y="224" width="2" height="4" fill="#008000"/>
<rect x="417" y="219" width="1" height="14" fill="#ff0000"/>
<rect x="416.5" y="223" width="2" height="8" fill="#ff0000"/>
<rect x="419" y="230" width="1" height="19" fill="#ff0000"/>
<rect x="418.5" y="231" width="2" height="15" fill="#ff0000"/>
<rect x="421" y="233" width="1" height="15" fill="#008000"/>
<rect x="420.5" y="236" width="2" height="9" fill="#008000"/>
<rect x="423" y="234" width="1" height="17" fill="#ff0000"/>
<rect x="422.5" y="234" width="2" height="15" fill="#ff0000"/>
<rect x="425" y="247" width="1" height="10" fill="#ff0000"/>
<rect x="424.5" y="248" width="2" height="8" fill="#ff0000"/>
<rect x="426" y="245" width="1" height="14" fill="#008000"/>
<rect x="425.5" y="249" width="2" height="7" fill="#008000"/>
<rect x="428" y="248" width="1" height="8" fill="#ff0000"/>
<rect x="427.5" y="249" width="2" height="5" fill="#ff0000"/>
<rect x="430" y="254" width="1" height="4" fill="#ff0000"/>
<rect x="429.5" y="255" width="2" height="1" fill="#ff0000"/>
<rect x="432" y="253" width="1" height="15" fill="#ff0000"/>
<rect x="431.5" y="257" width="2" height="12" fill="#ff0000"/>
<rect x="434" y="267" width="1" height="8" fill="#008000"/>
<rect x="433.5" y="268" width="2" height="1" fill="#008000"/>
<rect x="436" y="269" width="1" height="2" fill="#ff0000"/>
<rect x="435.5" y="269" width="2" height="1" fill="#ff0000"/>
<rect x="437" y="257" width="1" height="14" fill="#008000"/>
<rect x="436.5" y="261" width="2" height="8" fill="#008000"/>
<rect x="439" y="251" width="1" height="12" fill="#008000"/>
<rect x="438.5" y="255" width="2" height="6" fill="#008000"/>
<rect x="441" y="247" width="1" height="9" fill="#008000"/>
<rect x="440.5" y="250" width="2" height="5" fill="#008000"/>
<rect x="443" y="248" width="1" height="8" fill="#ff0000"/>
<rect x="442.5" y="250" width="2" height="6" fill="#ff0000"/>
<rect x="445" y="246" width="1" height="10" fill="#008000"/>
<rect x="444.5" y="248" width="2" height="7" fill="#008000"/>
<rect x="446" y="245" width="1" height="5" fill="#008000"/>
<rect x="445.5" y="248" width="2" height="1" fill="#008000"/>
<rect x="448" y="247" width="1" height="10" fill="#ff0000"/>
<rect x="447.5" y="248" width="2" height="9" fill="#ff0000"/>
<rect x="450" y="256" width="1" height="10" fill="#ff0000"/>
<rect x="449.5" y="257" width="2" height="3" fill="#ff0000"/>
<rect x="452" y="257" width="1" height="7" fill="#ff0000"/>
<rect x="451.5" y="260" width="2" height="4" fill="#ff0000"/>
<rect x="454" y="257" width="1" height="19" fill="#ff0000"/>
<rect x="453.5" y="264" width="2" height="3" fill="#ff0000"/>
<rect x="455" y="261" width="1" height="14" fill="#008000"/>
<rect x="454.5" y="264" width="2" height="2" fill="#008000"/>
<rect x="457" y="251" width="1" height="14" fill="#008000"/>
<rect x="456.5" y="253" width="2" height="11" fill="#008000"/>
<rect x="459" y="248" width="1" height="18" fill="#ff0000"/>
<rect x="458.5" y="251" width="2" height="14" fill="#ff0000"/>
<rect x="461" y="251" width="1" height="15" fill="#008000"/>
<rect x="460.5" y="253" width="2" height="12" fill="#008000"/>
<rect x="463" y="222" width="1" height="40" fill="#008000"/>
<rect x="462.5" y="225" width="2" height="37" fill="#008000"/>
<rect x="465" y="224" width="1" height="13" fill="#008000"/>
<rect x="464.5" y="227" width="2" height="9" fill="#008000"/>
<rect x="466" y="223" width="1" height="16" fill="#ff0000"/>
<rect x="465.5" y="227" width="2" height="5" fill="#ff0000"/>
<rect x="468" y="227" width="1" height="10" fill="#ff0000"/>
<rect x="467.5" y="230" width="2" height="1" fill="#ff0000"/>
<rect x="470" y="230" width="1" height="21" fill="#ff0000"/>
<rect x="469.5" y="232" width="2" height="17" fill="#ff0000"/>
<rect x="472" y="232" width="1" height="40" fill="#ff0000"/>
<rect x="471.5" y="235" width="2" height="37" fill="#ff0000"/>
<rect x="474" y="257" width="1" height="14" fill="#ff0000"/>
<rect x="473.5" y="260" width="2" height="9" fill="#ff0000"/>
<rect x="475" y="258" width="1" height="11" fill="#008000"/>
<rect x="474.5" y="262" width="2" height="6" fill="#008000"/>
<rect x="477" y="251" width="1" height="13" fill="#008000"/>
<rect x="476.5" y="253" width="2" height="10" fill="#008000"/>
<rect x="479" y="251" width="1" height="4" fill="#008000"/>
<rect x="478.5" y="252" width="2" height="1" fill="#008000"/>
<rect x="481" y="237" width="1" height="16" fill="#008000"/>
<rect x="480.5" y="241" width="2" height="9" fill="#008000"/>
<rect x="483" y="239" width="1" height="7" fill="#ff0000"/>
<rect x="482.5" y="241" width="2" height="4" fill="#ff0000"/>
<rect x="484" y="229" width="1" height="17" fill="#008000"/>
<rect x="483.5" y="236" width="2" height="9" fill="#008000"/>
<rect x="486" y="230" width="1" height="7" fill="#008000"/>
<rect x="485.5" y="230" width="2" height="6" fill="#008000"/>
<rect x="488" y="217" width="1" height="15" fill="#008000"/>
<rect x="487.5" y="220" width="2" height="11" fill="#008000"/>
<rect x="490" y="217" width="1" height="5" fill="#008000"/>
<rect x="489.5" y="219" width="2" height="1" fill="#008000"/>
<rect x="492" y="213" width="1" height="13" fill="#ff0000"/>
<rect x="491.5" y="219" width="2" height="1" fill="#ff0000"/>
<rect x="494" y="216" width="1" height="14" fill="#ff0000"/>
<rect x="493.5" y="220" width="2" height="7" fill="#ff0000"/>
<rect x="495" y="222" width="1" height="6" fill="#008000"/>
<rect x="494.5" y="224" width="2" height="3" fill="#008000"/>
<rect x="497" y="219" width="1" height="6" fill="#008000"/>
<rect x="496.5" y="222" width="2" height="2" fill="#008000"/>
<rect x="499" y="207" width="1" height="16" fill="#008000"/>
<rect x="498.5" y="212" width="2" height="9" fill="#008000"/>
<rect x="501" y="209" width="1" height="6" fill="#008000"/>
<rect x="500.5" y="213" width="2" height="1" fill="#008000"/>
<rect x="503" y="200" width="1" height="16" fill="#008000"/>
<rect x="502.5" y="206" width="2" height="8" fill="#008000"/>
<rect x="504" y="204" width="1" height="10" fill="#ff0000"/>
<rect x="503.5" y="206" width="2" height="7" fill="#ff0000"/>
<rect x="506" y="209" width="1" height="8" fill="#ff0000"/>
<rect x="505.5" y="214" width="2" height="3" fill="#ff0000"/>
<rect x="508" y="215" width="1" height="7" fill="#ff0000"/>
<rect x="507.5" y="216" width="2" height="4" fill="#ff0000"/>
<rect x="510" y="219" width="1" height="16" fill="#ff0000"/>
<rect x="509.5" y="220" width="2" height="9" fill="#ff0000"/>
<rect x="512" y="229" width="1" height="5" fill="#ff0000"/>
<rect x="511.5" y="230" width="2" height="1" fill="#ff0000"/>
<rect x="513" y="223" width="1" height="8" fill="#008000"/>
<rect x="512.5" y="223" width="2" height="7" fill="#008000"/>
<rect x="515" y="221" width="1" height="10" fill="#ff0000"/>
<rect x="514.5" y="223" width="2" height="2" fill="#ff0000"/>
<rect x="517" y="223" width="1" height="3" fill="#ff0000"/>
<rect x="516.5" y="224" width="2" height="1" fill="#ff0000"/>
<rect x="519" y="223" width="1" height="5" fill="#008000"/>
<rect x="518.5" y="224" width="2" height="1" fill="#008000"/>
<rect x="521" y="223" width="1" height="6" fill="#ff0000"/>
<rect x="520.5" y="225" width="2" height="4" fill="#ff0000"/>
<rect x="523" y="228" width="1" height="5" fill="#ff0000"/>
<rect x="522.5" y="228" width="2" height="2" fill="#ff0000"/>
<rect x="524" y="228" width="1" height="3" fill="#008000"/>
<rect x="523.5" y="228" width="2" height="1" fill="#008000"/>
<rect x="526" y="227" width="1" height="10" fill="#ff0000"/>
<rect x="525.5" y="228" width="2" height="2" fill="#ff0000"/>
<rect x="528" y="215" width="1" height="22" fill="#008000"/>
<rect x="527.5" y="220" width="2" height="9" fill="#008000"/>
<rect x="530" y="208" width="1" height="19" fill="#008000"/>
<rect x="529.5" y="210" width="2" height="10" fill="#008000"/>
<rect x="532" y="212" width="1" height="25" fill="#008000"/>
<rect x="531.5" y="215" width="2" height="20" fill="#008000"/>
<rect x="533" y="198" width="1" height="24" fill="#008000"/>
<rect x="532.5" y="200" width="2" height="20" fill="#008000"/>
<rect x="535" y="172" width="1" height="30" fill="#008000"/>
<rect x="534.5" y="175" width="2" height="25" fill="#008000"/>
<rect x="537" y="170" width="1" height="22" fill="#ff0000"/>
<rect x="536.5" y="172" width="2" height="18" fill="#ff0000"/>
<rect x="539" y="183" width="1" height="13" fill="#008000"/>
<rect x="538.5" y="185" width="2" height="10" fill="#008000"/>
<rect x="541" y="186" width="1" height="38" fill="#ff0000"/>
<rect x="540.5" y="188" width="2" height="22" fill="#ff0000"/>
<rect x="542" y="197" width="1" height="12" fill="#008000"/>
<rect x="541.5" y="199" width="2" height="9" fill="#008000"/>
</g>
<g clip-path="url(#c2)">
<polyline points="0.0,347.3 8.7,348.5 9.6,345.8 12.0,341.3 15.0,339.8 19.8,335.0 21.0,332.3 24.8,333.0 31.6,343.5 39.8,361.6 43.6,375.0 49.6,377.4 54.0,377.4 59.5,380.0 64.0,377.0 71.5,376.7 75.3,374.8 79.0,372.2 85.0,371.5 91.0,372.5 97.0,377.0 103.0,384.5 108.3,389.8 113.6,389.0 118.0,385.3 125.0,383.8 130.0,383.5 133.3,383.5 135.0,385.6 138.3,386.4 140.3,385.2 141.6,379.8 146.1,369.9 147.8,365.7 151.5,364.0 154.8,364.5 158.1,367.8 163.0,368.2 170.5,371.1 174.6,369.9 176.3,364.9 177.9,359.1 178.8,355.0 182.4,347.0 187.0,351.4 192.6,361.6 201.6,369.5 206.0,367.2 211.8,358.2 215.0,364.0 219.7,362.7 222.3,357.5 225.7,353.5 229.0,354.0 236.0,351.2 241.7,351.5 244.0,352.9 253.2,354.0 259.0,355.2 267.0,354.6 273.8,350.6 279.5,348.3 284.0,347.7 290.0,340.9 294.3,333.0 298.0,324.0 301.8,319.5 304.2,314.3 309.5,312.2 314.8,315.4 320.0,314.3 325.3,302.7 331.6,297.5 344.3,296.4 348.5,291.0 354.8,272.2 361.1,265.8 365.4,255.3 367.3,248.0 369.5,246.5 374.0,248.0 377.8,254.0 381.5,256.3 385.0,256.3 389.7,256.3 393.4,260.0 395.5,255.8 398.7,249.5 402.4,242.1 403.4,240.0 410.0,224.0 415.3,214.4 422.6,214.4 428.0,222.0 430.7,221.7 434.3,214.4 437.0,214.0 441.6,219.0 446.5,220.6 451.5,228.0 457.3,237.2 462.3,239.6 464.8,229.7 469.7,224.0 478.0,222.3 483.0,221.4 487.0,214.8 493.0,205.0 498.4,195.2 503.8,188.0 507.4,185.3 511.0,191.6 516.5,197.0 519.2,201.5 525.5,201.9 530.0,200.6 531.8,197.9 534.5,183.5 541.7,177.1" fill="none" stroke="#ff0000" stroke-width="1" shape-rendering="crispEdges"/>
<polyline points="0.0,356.0 6.0,356.3 13.5,358.6 19.5,364.6 27.0,373.6 34.6,381.0 40.6,388.6 45.0,391.0 52.6,391.0 55.0,390.5 64.0,387.5 74.5,385.3 79.0,388.3 88.0,393.5 97.0,397.7 106.0,401.0 115.0,403.3 120.0,405.3 130.0,404.6 139.9,406.2 144.0,404.6 149.0,398.8 156.4,388.9 163.0,385.6 174.6,385.2 176.8,390.7 183.0,403.4 189.4,412.4 197.5,415.0 204.8,415.0 212.0,410.6 219.0,396.0 225.7,386.0 231.4,377.0 238.3,372.3 242.9,371.2 254.3,371.2 260.0,373.0 268.0,372.3 277.2,368.9 280.0,367.4 287.4,360.0 294.7,353.9 301.2,348.2 307.8,340.0 319.0,335.4 327.4,328.0 330.0,326.3 337.2,325.7 344.4,324.5 348.0,317.3 351.6,311.3 357.6,305.8 364.9,299.8 370.9,288.4 376.9,281.2 378.5,276.6 385.0,275.8 391.3,274.2 395.5,271.6 400.8,269.0 408.2,261.6 415.5,253.7 421.8,246.8 425.0,244.7 428.2,242.1 431.3,242.6 435.5,247.4 439.7,250.0 445.0,250.5 451.5,256.2 458.0,259.5 463.0,259.5 469.7,251.2 476.3,248.0 483.0,251.2 488.0,244.6 494.5,236.3 498.4,233.0 505.6,229.5 509.2,225.0 514.6,218.6 521.9,217.4 529.0,219.5 534.5,216.0 541.7,212.3" fill="none" stroke="#ff0000" stroke-width="1" shape-rendering="crispEdges"/>
<polyline points="0.0,366.0 6.0,364.6 9.0,358.6 13.0,370.0 18.0,395.0 22.5,411.0 27.0,416.5 34.6,416.5 39.8,414.0 43.6,408.0 51.0,406.7 55.0,401.8 59.5,398.0 64.0,396.5 70.0,396.5 74.5,392.8 78.0,400.0 85.0,411.6 95.5,419.8 104.5,414.6 112.0,413.0 118.0,420.6 120.0,427.0 129.0,427.8 138.0,427.0 147.0,433.0 153.0,424.0 157.5,410.6 165.0,401.6 171.0,399.3 174.0,400.0 176.8,414.0 179.0,433.8 182.0,463.0 184.0,464.0 194.0,464.0 201.0,463.0 210.0,465.0 214.0,454.0 217.4,423.0 225.0,418.0 231.4,400.0 237.0,394.0 243.0,392.4 247.5,387.8 253.2,390.0 270.3,391.2 277.2,388.4 283.3,378.4 287.4,374.3 290.6,373.0 297.2,374.3 301.2,372.3 306.1,367.8 310.2,363.7 312.7,358.0 314.3,356.3 318.4,355.1 320.0,353.5 323.3,355.1 325.8,354.3 330.0,354.3 334.8,352.7 343.2,354.0 348.0,350.9 352.2,343.1 362.5,342.5 366.7,341.9 370.9,332.9 374.5,319.7 377.5,304.0 380.5,296.8 385.3,295.6 389.2,294.7 391.8,288.4 395.0,285.8 398.2,287.9 401.8,293.7 407.1,297.4 409.2,293.7 414.5,293.2 418.7,286.3 422.9,276.8 427.1,262.1 430.3,262.6 432.4,277.9 434.5,280.0 440.0,283.2 445.0,283.2 454.8,281.0 463.0,282.7 465.6,286.0 469.7,279.4 473.0,276.0 478.0,281.0 486.3,279.4 493.0,273.7 498.4,271.8 504.7,273.7 508.3,268.2 511.0,253.8 514.6,244.8 516.5,235.8 520.0,232.2 526.4,236.7 530.9,242.0 534.5,247.5 539.0,249.3 541.7,248.4" fill="none" stroke="#ff0000" stroke-width="1" shape-rendering="crispEdges"/>
</g>
<g clip-path="url(#c3)" shape-rendering="crispEdges">
<rect x="0" y="609" width="2" height="31" fill="#008000"/>
<rect x="2" y="596" width="2" height="44" fill="#008000"/>
<rect x="4" y="610" width="2" height="30" fill="#008000"/>
<rect x="5" y="618" width="2" height="22" fill="#008000"/>
<rect x="7" y="600" width="2" height="40" fill="#008000"/>
<rect x="9" y="618" width="2" height="22" fill="#008000"/>
<rect x="11" y="597" width="2" height="43" fill="#008000"/>
<rect x="13" y="609" width="2" height="31" fill="#008000"/>
<rect x="15" y="613" width="2" height="27" fill="#008000"/>
<rect x="16" y="617" width="2" height="23" fill="#008000"/>
<rect x="18" y="591" width="2" height="49" fill="#008000"/>
<rect x="20" y="600" width="2" height="40" fill="#008000"/>
<rect x="22" y="612" width="2" height="28" fill="#008000"/>
<rect x="24" y="612" width="2" height="28" fill="#008000"/>
<rect x="25" y="612" width="2" height="28" fill="#008000"/>
<rect x="27" y="601" width="2" height="39" fill="#008000"/>
<rect x="29" y="615" width="2" height="25" fill="#008000"/>
<rect x="31" y="616" width="2" height="24" fill="#008000"/>
<rect x="33" y="611" width="2" height="29" fill="#008000"/>
<rect x="34" y="611" width="2" height="29" fill="#008000"/>
<rect x="36" y="608" width="2" height="32" fill="#008000"/>
<rect x="38" y="604" width="2" height="36" fill="#008000"/>
<rect x="40" y="625" width="2" height="15" fill="#008000"/>
<rect x="42" y="607" width="2" height="33" fill="#008000"/>
<rect x="44" y="622" width="2" height="18" fill="#008000"/>
<rect x="45" y="622" width="2" height="18" fill="#008000"/>
<rect x="47" y="614" width="2" height="26" fill="#008000"/>
<rect x="49" y="617" width="2" height="23" fill="#008000"/>
<rect x="51" y="627" width="2" height="13" fill="#008000"/>
<rect x="53" y="626" width="2" height="14" fill="#008000"/>
<rect x="54" y="625" width="2" height="15" fill="#008000"/>
<rect x="56" y="611" width="2" height="29" fill="#008000"/>
<rect x="58" y="630" width="2" height="10" fill="#008000"/>
<rect x="60" y="624" width="2" height="16" fill="#008000"/>
<rect x="62" y="612" width="2" height="28" fill="#008000"/>
<rect x="63" y="624" width="2" height="16" fill="#008000"/>
<rect x="65" y="611" width="2" height="29" fill="#008000"/>
<rect x="67" y="613" width="2" height="27" fill="#008000"/>
<rect x="69" y="627" width="2" height="13" fill="#008000"/>
<rect x="71" y="626" width="2" height="14" fill="#008000"/>
<rect x="73" y="623" width="2" height="17" fill="#008000"/>
<rect x="74" y="613" width="2" height="27" fill="#008000"/>
<rect x="76" y="617" width="2" height="23" fill="#008000"/>
<rect x="78" y="625" width="2" height="15" fill="#008000"/>
<rect x="80" y="624" width="2" height="16" fill="#008000"/>
<rect x="82" y="616" width="2" height="24" fill="#008000"/>
<rect x="83" y="624" width="2" height="16" fill="#008000"/>
<rect x="85" y="628" width="2" height="12" fill="#008000"/>
<rect x="87" y="631" width="2" height="9" fill="#008000"/>
<rect x="89" y="623" width="2" height="17" fill="#008000"/>
<rect x="91" y="630" width="2" height="10" fill="#008000"/>
<rect x="92" y="627" width="2" height="13" fill="#008000"/>
<rect x="94" y="621" width="2" height="19" fill="#008000"/>
<rect x="96" y="623" width="2" height="17" fill="#008000"/>
<rect x="98" y="612" width="2" height="28" fill="#008000"/>
<rect x="100" y="625" width="2" height="15" fill="#008000"/>
<rect x="102" y="628" width="2" height="12" fill="#008000"/>
<rect x="103" y="624" width="2" height="16" fill="#008000"/>
<rect x="105" y="631" width="2" height="9" fill="#008000"/>
<rect x="107" y="622" width="2" height="18" fill="#008000"/>
<rect x="109" y="611" width="2" height="29" fill="#008000"/>
<rect x="111" y="630" width="2" height="10" fill="#008000"/>
<rect x="112" y="619" width="2" height="21" fill="#008000"/>
<rect x="114" y="628" width="2" height="12" fill="#008000"/>
<rect x="116" y="593" width="2" height="47" fill="#008000"/>
<rect x="118" y="615" width="2" height="25" fill="#008000"/>
<rect x="120" y="620" width="2" height="20" fill="#008000"/>
<rect x="121" y="609" width="2" height="31" fill="#008000"/>
<rect x="123" y="628" width="2" height="12" fill="#008000"/>
<rect x="125" y="598" width="2" height="42" fill="#008000"/>
<rect x="127" y="614" width="2" height="26" fill="#008000"/>
<rect x="129" y="607" width="2" height="33" fill="#008000"/>
<rect x="131" y="617" width="2" height="23" fill="#008000"/>
<rect x="132" y="613" width="2" height="27" fill="#008000"/>
<rect x="134" y="608" width="2" height="32" fill="#008000"/>
<rect x="136" y="622" width="2" height="18" fill="#008000"/>
<rect x="138" y="620" width="2" height="20" fill="#008000"/>
<rect x="140" y="585" width="2" height="55" fill="#008000"/>
<rect x="141" y="620" width="2" height="20" fill="#008000"/>
<rect x="143" y="619" width="2" height="21" fill="#008000"/>
<rect x="145" y="600" width="2" height="40" fill="#008000"/>
<rect x="147" y="606" width="2" height="34" fill="#008000"/>
<rect x="149" y="612" width="2" height="28" fill="#008000"/>
<rect x="150" y="604" width="2" height="36" fill="#008000"/>
<rect x="152" y="616" width="2" height="24" fill="#008000"/>
<rect x="154" y="615" width="2" height="25" fill="#008000"/>
<rect x="156" y="585" width="2" height="55" fill="#008000"/>
<rect x="158" y="612" width="2" height="28" fill="#008000"/>
<rect x="160" y="624" width="2" height="16" fill="#008000"/>
<rect x="161" y="607" width="2" height="33" fill="#008000"/>
<rect x="163" y="616" width="2" height="24" fill="#008000"/>
<rect x="165" y="624" width="2" height="16" fill="#008000"/>
<rect x="167" y="617" width="2" height="23" fill="#008000"/>
<rect x="169" y="610" width="2" height="30" fill="#008000"/>
<rect x="170" y="614" width="2" height="26" fill="#008000"/>
<rect x="172" y="613" width="2" height="27" fill="#008000"/>
<rect x="174" y="578" width="2" height="62" fill="#008000"/>
<rect x="176" y="522" width="2" height="118" fill="#008000"/>
<rect x="178" y="620" width="2" height="20" fill="#008000"/>
<rect x="179" y="608" width="2" height="32" fill="#008000"/>
<rect x="181" y="558" width="2" height="82" fill="#008000"/>
<rect x="183" y="604" width="2" height="36" fill="#008000"/>
<rect x="185" y="577" width="2" height="63" fill="#008000"/>
<rect x="187" y="614" width="2" height="26" fill="#008000"/>
<rect x="189" y="589" width="2" height="51" fill="#008000"/>
<rect x="190" y="593" width="2" height="47" fill="#008000"/>
<rect x="192" y="610" width="2" height="30" fill="#008000"/>
<rect x="194" y="593" width="2" height="47" fill="#008000"/>
<rect x="196" y="574" width="2" height="66" fill="#008000"/>
<rect x="198" y="591" width="2" height="49" fill="#008000"/>
<rect x="199" y="595" width="2" height="45" fill="#008000"/>
<rect x="201" y="600" width="2" height="40" fill="#008000"/>
<rect x="203" y="593" width="2" height="47" fill="#008000"/>
<rect x="205" y="612" width="2" height="28" fill="#008000"/>
<rect x="207" y="599" width="2" height="41" fill="#008000"/>
<rect x="208" y="603" width="2" height="37" fill="#008000"/>
<rect x="210" y="601" width="2" height="39" fill="#008000"/>
<rect x="212" y="617" width="2" height="23" fill="#008000"/>
<rect x="214" y="615" width="2" height="25" fill="#008000"/>
<rect x="216" y="570" width="2" height="70" fill="#008000"/>
<rect x="218" y="598" width="2" height="42" fill="#008000"/>
<rect x="219" y="598" width="2" height="42" fill="#008000"/>
<rect x="221" y="617" width="2" height="23" fill="#008000"/>
<rect x="223" y="619" width="2" height="21" fill="#008000"/>
<rect x="225" y="591" width="2" height="49" fill="#008000"/>
<rect x="227" y="600" width="2" height="40" fill="#008000"/>
<rect x="228" y="604" width="2" height="36" fill="#008000"/>
<rect x="230" y="600" width="2" height="40" fill="#008000"/>
<rect x="232" y="610" width="2" height="30" fill="#008000"/>
<rect x="234" y="598" width="2" height="42" fill="#008000"/>
<rect x="236" y="610" width="2" height="30" fill="#008000"/>
<rect x="237" y="588" width="2" height="52" fill="#008000"/>
<rect x="239" y="616" width="2" height="24" fill="#008000"/>
<rect x="241" y="581" width="2" height="59" fill="#008000"/>
<rect x="243" y="606" width="2" height="34" fill="#008000"/>
<rect x="245" y="607" width="2" height="33" fill="#008000"/>
<rect x="247" y="614" width="2" height="26" fill="#008000"/>
<rect x="248" y="616" width="2" height="24" fill="#008000"/>
<rect x="250" y="597" width="2" height="43" fill="#008000"/>
<rect x="252" y="618" width="2" height="22" fill="#008000"/>
<rect x="254" y="597" width="2" height="43" fill="#008000"/>
<rect x="256" y="607" width="2" height="33" fill="#008000"/>
<rect x="257" y="615" width="2" height="25" fill="#008000"/>
<rect x="259" y="619" width="2" height="21" fill="#008000"/>
<rect x="261" y="614" width="2" height="26" fill="#008000"/>
<rect x="263" y="610" width="2" height="30" fill="#008000"/>
<rect x="265" y="614" width="2" height="26" fill="#008000"/>
<rect x="266" y="611" width="2" height="29" fill="#008000"/>
<rect x="268" y="620" width="2" height="20" fill="#008000"/>
<rect x="270" y="609" width="2" height="31" fill="#008000"/>
<rect x="272" y="595" width="2" height="45" fill="#008000"/>
<rect x="274" y="608" width="2" height="32" fill="#008000"/>
<rect x="276" y="603" width="2" height="37" fill="#008000"/>
<rect x="277" y="606" width="2" height="34" fill="#008000"/>
<rect x="279" y="588" width="2" height="52" fill="#008000"/>
<rect x="281" y="616" width="2" height="24" fill="#008000"/>
<rect x="283" y="605" width="2" height="35" fill="#008000"/>
<rect x="285" y="605" width="2" height="35" fill="#008000"/>
<rect x="286" y="616" width="2" height="24" fill="#008000"/>
<rect x="288" y="613" width="2" height="27" fill="#008000"/>
<rect x="290" y="613" width="2" height="27" fill="#008000"/>
<rect x="292" y="612" width="2" height="28" fill="#008000"/>
<rect x="294" y="599" width="2" height="41" fill="#008000"/>
<rect x="295" y="617" width="2" height="23" fill="#008000"/>
<rect x="297" y="615" width="2" height="25" fill="#008000"/>
<rect x="299" y="616" width="2" height="24" fill="#008000"/>
<rect x="301" y="612" width="2" height="28" fill="#008000"/>
<rect x="303" y="611" width="2" height="29" fill="#008000"/>
<rect x="305" y="601" width="2" height="39" fill="#008000"/>
<rect x="306" y="618" width="2" height="22" fill="#008000"/>
<rect x="308" y="607" width="2" height="33" fill="#008000"/>
<rect x="310" y="565" width="2" height="75" fill="#008000"/>
<rect x="312" y="610" width="2" height="30" fill="#008000"/>
<rect x="314" y="581" width="2" height="59" fill="#008000"/>
<rect x="315" y="606" width="2" height="34" fill="#008000"/>
<rect x="317" y="576" width="2" height="64" fill="#008000"/>
<rect x="319" y="594" width="2" height="46" fill="#008000"/>
<rect x="321" y="567" width="2" height="73" fill="#008000"/>
<rect x="323" y="591" width="2" height="49" fill="#008000"/>
<rect x="324" y="594" width="2" height="46" fill="#008000"/>
<rect x="326" y="600" width="2" height="40" fill="#008000"/>
<rect x="328" y="608" width="2" height="32" fill="#008000"/>
<rect x="330" y="592" width="2" height="48" fill="#008000"/>
<rect x="332" y="597" width="2" height="43" fill="#008000"/>
<rect x="334" y="598" width="2" height="42" fill="#008000"/>
<rect x="335" y="595" width="2" height="45" fill="#008000"/>
<rect x="337" y="582" width="2" height="58" fill="#008000"/>
<rect x="339" y="589" width="2" height="51" fill="#008000"/>
<rect x="341" y="591" width="2" height="49" fill="#008000"/>
<rect x="343" y="606" width="2" height="34" fill="#008000"/>
<rect x="344" y="571" width="2" height="69" fill="#008000"/>
<rect x="346" y="590" width="2" height="50" fill="#008000"/>
<rect x="348" y="593" width="2" height="47" fill="#008000"/>
<rect x="350" y="609" width="2" height="31" fill="#008000"/>
<rect x="352" y="610" width="2" height="30" fill="#008000"/>
<rect x="353" y="591" width="2" height="49" fill="#008000"/>
<rect x="355" y="588" width="2" height="52" fill="#008000"/>
<rect x="357" y="584" width="2" height="56" fill="#008000"/>
<rect x="359" y="605" width="2" height="35" fill="#008000"/>
<rect x="361" y="566" width="2" height="74" fill="#008000"/>
<rect x="363" y="611" width="2" height="29" fill="#008000"/>
<rect x="364" y="615" width="2" height="25" fill="#008000"/>
<rect x="366" y="604" width="2" height="36" fill="#008000"/>
<rect x="368" y="604" width="2" height="36" fill="#008000"/>
<rect x="370" y="604" width="2" height="36" fill="#008000"/>
<rect x="372" y="597" width="2" height="43" fill="#008000"/>
<rect x="373" y="603" width="2" height="37" fill="#008000"/>
<rect x="375" y="602" width="2" height="38" fill="#008000"/>
<rect x="377" y="606" width="2" height="34" fill="#008000"/>
<rect x="379" y="610" width="2" height="30" fill="#008000"/>
<rect x="381" y="610" width="2" height="30" fill="#008000"/>
<rect x="382" y="608" width="2" height="32" fill="#008000"/>
<rect x="384" y="604" width="2" height="36" fill="#008000"/>
<rect x="386" y="608" width="2" height="32" fill="#008000"/>
<rect x="388" y="602" width="2" height="38" fill="#008000"/>
<rect x="390" y="600" width="2" height="40" fill="#008000"/>
<rect x="392" y="608" width="2" height="32" fill="#008000"/>
<rect x="393" y="610" width="2" height="30" fill="#008000"/>
<rect x="395" y="569" width="2" height="71" fill="#008000"/>
<rect x="397" y="617" width="2" height="23" fill="#008000"/>
<rect x="399" y="612" width="2" height="28" fill="#008000"/>
<rect x="401" y="590" width="2" height="50" fill="#008000"/>
<rect x="402" y="612" width="2" height="28" fill="#008000"/>
<rect x="404" y="616" width="2" height="24" fill="#008000"/>
<rect x="406" y="617" width="2" height="23" fill="#008000"/>
<rect x="408" y="582" width="2" height="58" fill="#008000"/>
<rect x="410" y="591" width="2" height="49" fill="#008000"/>
<rect x="411" y="605" width="2" height="35" fill="#008000"/>
<rect x="413" y="610" width="2" height="30" fill="#008000"/>
<rect x="415" y="600" width="2" height="40" fill="#008000"/>
<rect x="417" y="600" width="2" height="40" fill="#008000"/>
<rect x="419" y="609" width="2" height="31" fill="#008000"/>
<rect x="421" y="606" width="2" height="34" fill="#008000"/>
<rect x="422" y="604" width="2" height="36" fill="#008000"/>
<rect x="424" y="604" width="2" height="36" fill="#008000"/>
<rect x="426" y="584" width="2" height="56" fill="#008000"/>
<rect x="428" y="615" width="2" height="25" fill="#008000"/>
<rect x="430" y="598" width="2" height="42" fill="#008000"/>
<rect x="431" y="612" width="2" height="28" fill="#008000"/>
<rect x="433" y="606" width="2" height="34" fill="#008000"/>
<rect x="435" y="612" width="2" height="28" fill="#008000"/>
<rect x="437" y="605" width="2" height="35" fill="#008000"/>
<rect x="439" y="603" width="2" height="37" fill="#008000"/>
<rect x="440" y="608" width="2" height="32" fill="#008000"/>
<rect x="442" y="617" width="2" height="23" fill="#008000"/>
<rect x="444" y="619" width="2" height="21" fill="#008000"/>
<rect x="446" y="618" width="2" height="22" fill="#008000"/>
<rect x="448" y="618" width="2" height="22" fill="#008000"/>
<rect x="450" y="606" width="2" height="34" fill="#008000"/>
<rect x="451" y="612" width="2" height="28" fill="#008000"/>
<rect x="453" y="612" width="2" height="28" fill="#008000"/>
<rect x="455" y="628" width="2" height="12" fill="#008000"/>
<rect x="457" y="615" width="2" height="25" fill="#008000"/>
<rect x="459" y="627" width="2" height="13" fill="#008000"/>
<rect x="460" y="620" width="2" height="20" fill="#008000"/>
<rect x="462" y="578" width="2" height="62" fill="#008000"/>
<rect x="464" y="627" width="2" height="13" fill="#008000"/>
<rect x="466" y="611" width="2" height="29" fill="#008000"/>
<rect x="468" y="611" width="2" height="29" fill="#008000"/>
<rect x="469" y="612" width="2" height="28" fill="#008000"/>
<rect x="471" y="622" width="2" height="18" fill="#008000"/>
<rect x="473" y="621" width="2" height="19" fill="#008000"/>
<rect x="475" y="603" width="2" height="37" fill="#008000"/>
<rect x="477" y="613" width="2" height="27" fill="#008000"/>
<rect x="479" y="609" width="2" height="31" fill="#008000"/>
<rect x="480" y="619" width="2" height="21" fill="#008000"/>
<rect x="482" y="615" width="2" height="25" fill="#008000"/>
<rect x="484" y="608" width="2" height="32" fill="#008000"/>
<rect x="486" y="584" width="2" height="56" fill="#008000"/>
<rect x="488" y="622" width="2" height="18" fill="#008000"/>
<rect x="489" y="622" width="2" height="18" fill="#008000"/>
<rect x="491" y="602" width="2" height="38" fill="#008000"/>
<rect x="493" y="612" width="2" height="28" fill="#008000"/>
<rect x="495" y="608" width="2" height="32" fill="#008000"/>
<rect x="497" y="607" width="2" height="33" fill="#008000"/>
<rect x="498" y="620" width="2" height="20" fill="#008000"/>
<rect x="500" y="624" width="2" height="16" fill="#008000"/>
<rect x="502" y="615" width="2" height="25" fill="#008000"/>
<rect x="504" y="597" width="2" height="43" fill="#008000"/>
<rect x="506" y="626" width="2" height="14" fill="#008000"/>
<rect x="508" y="605" width="2" height="35" fill="#008000"/>
<rect x="509" y="608" width="2" height="32" fill="#008000"/>
<rect x="511" y="607" width="2" height="33" fill="#008000"/>
<rect x="513" y="608" width="2" height="32" fill="#008000"/>
<rect x="515" y="608" width="2" height="32" fill="#008000"/>
<rect x="517" y="609" width="2" height="31" fill="#008000"/>
<rect x="518" y="614" width="2" height="26" fill="#008000"/>
<rect x="520" y="613" width="2" height="27" fill="#008000"/>
<rect x="522" y="623" width="2" height="17" fill="#008000"/>
<rect x="524" y="621" width="2" height="19" fill="#008000"/>
<rect x="526" y="610" width="2" height="30" fill="#008000"/>
<rect x="527" y="620" width="2" height="20" fill="#008000"/>
<rect x="529" y="575" width="2" height="65" fill="#008000"/>
<rect x="531" y="555" width="2" height="85" fill="#008000"/>
<rect x="533" y="583" width="2" height="57" fill="#008000"/>
<rect x="535" y="598" width="2" height="42" fill="#008000"/>
<rect x="537" y="608" width="2" height="32" fill="#008000"/>
<rect x="538" y="611" width="2" height="29" fill="#008000"/>
<rect x="540" y="584" width="2" height="56" fill="#008000"/>
<rect x="542" y="617" width="2" height="23" fill="#008000"/>
</g>
<g clip-path="url(#c3)">
<polyline points="0.0,601.6 3.2,603.7 6.3,607.9 12.6,609.0 21.0,608.5 25.3,606.8 29.5,607.9 34.7,613.2 42.0,612.7 50.5,615.3 56.8,617.8 67.4,617.8 80.0,619.5 88.4,621.6 95.0,621.6 103.4,622.6 115.0,622.6 118.2,619.0 126.6,616.3 131.8,613.2 139.2,613.2 143.4,610.6 149.7,609.0 158.2,610.6 162.4,612.7 175.0,612.7 178.2,606.8 185.5,604.3 189.7,601.0 195.0,600.3 203.2,596.2 209.0,597.0 211.5,602.0 214.8,606.1 218.1,604.5 223.0,606.1 238.0,607.0 242.0,603.1 249.5,603.6 252.8,605.3 259.4,606.1 267.7,607.0 276.0,609.4 285.0,608.6 291.6,609.4 298.2,609.4 301.5,607.8 309.0,607.8 314.0,604.5 323.0,599.5 331.3,597.0 341.2,592.9 351.1,593.7 357.7,596.2 362.7,594.5 369.3,596.2 377.6,601.2 382.5,606.1 385.0,607.0 389.9,608.1 398.2,609.4 404.8,609.4 409.8,606.1 414.7,603.6 421.3,602.0 427.9,603.6 434.5,605.3 441.2,609.4 446.1,611.9 452.7,615.7 461.0,617.4 466.0,616.4 470.0,616.9 475.0,617.7 479.9,615.7 484.0,616.9 488.2,613.6 494.8,611.1 498.9,612.7 508.0,611.1 516.3,609.8 521.2,611.4 529.5,612.7 532.8,607.0 537.8,605.8 542.7,605.8" fill="none" stroke="#ff0000" stroke-width="2" shape-rendering="crispEdges"/>
</g>
<g shape-rendering="crispEdges">
<rect x="0" y="138" width="612" height="1" fill="#f0f0f0"/>
<rect x="0" y="140" width="612" height="1" fill="#a0a0a0"/>
<rect x="0" y="141" width="612" height="1" fill="#6e6e6e"/>
<rect x="0" y="508" width="612" height="1" fill="#f0f0f0"/>
<rect x="0" y="510" width="612" height="1" fill="#a0a0a0"/>
<rect x="0" y="511" width="612" height="1" fill="#6e6e6e"/>
<rect x="563" y="0" width="1" height="138" fill="#000"/>
<rect x="563" y="142" width="1" height="366" fill="#000"/>
<rect x="563" y="512" width="1" height="137" fill="#000"/>
<rect x="563" y="2" width="4" height="1" fill="#000"/>
<rect x="563" y="4" width="4" height="1" fill="#000"/>
<rect x="563" y="7" width="4" height="1" fill="#000"/>
<rect x="563" y="9" width="4" height="1" fill="#000"/>
<rect x="563" y="12" width="9" height="1" fill="#000"/>
<rect x="563" y="15" width="4" height="1" fill="#000"/>
<rect x="563" y="17" width="4" height="1" fill="#000"/>
<rect x="563" y="20" width="4" height="1" fill="#000"/>
<rect x="563" y="22" width="4" height="1" fill="#000"/>
<rect x="563" y="25" width="9" height="1" fill="#000"/>
<rect x="563" y="28" width="4" height="1" fill="#000"/>
<rect x="563" y="30" width="4" height="1" fill="#000"/>
<rect x="563" y="33" width="4" height="1" fill="#000"/>
<rect x="563" y="35" width="4" height="1" fill="#000"/>
<rect x="563" y="38" width="9" height="1" fill="#000"/>
<rect x="563" y="41" width="4" height="1" fill="#000"/>
<rect x="563" y="43" width="4" height="1" fill="#000"/>
<rect x="563" y="46" width="4" height="1" fill="#000"/>
<rect x="563" y="48" width="4" height="1" fill="#000"/>
<rect x="563" y="51" width="9" height="1" fill="#000"/>
<rect x="563" y="54" width="4" height="1" fill="#000"/>
<rect x="563" y="56" width="4" height="1" fill="#000"/>
<rect x="563" y="59" width="4" height="1" fill="#000"/>
<rect x="563" y="61" width="4" height="1" fill="#000"/>
<rect x="563" y="64" width="9" height="1" fill="#000"/>
<rect x="563" y="67" width="4" height="1" fill="#000"/>
<rect x="563" y="69" width="4" height="1" fill="#000"/>
<rect x="563" y="72" width="4" height="1" fill="#000"/>
<rect x="563" y="74" width="4" height="1" fill="#000"/>
<rect x="563" y="77" width="9" height="1" fill="#000"/>
<rect x="563" y="80" width="4" height="1" fill="#000"/>
<rect x="563" y="82" width="4" height="1" fill="#000"/>
<rect x="563" y="85" width="4" height="1" fill="#000"/>
<rect x="563" y="87" width="4" height="1" fill="#000"/>
<rect x="563" y="90" width="9" height="1" fill="#000"/>
<rect x="563" y="93" width="4" height="1" fill="#000"/>
<rect x="563" y="95" width="4" height="1" fill="#000"/>
<rect x="563" y="98" width="4" height="1" fill="#000"/>
<rect x="563" y="100" width="4" height="1" fill="#000"/>
<rect x="563" y="103" width="9" height="1" fill="#000"/>
<rect x="563" y="106" width="4" height="1" fill="#000"/>
<rect x="563" y="108" width="4" height="1" fill="#000"/>
<rect x="563" y="111" width="4" height="1" fill="#000"/>
<rect x="563" y="113" width="4" height="1" fill="#000"/>
<rect x="563" y="116" width="9" height="1" fill="#000"/>
<rect x="563" y="119" width="4" height="1" fill="#000"/>
<rect x="563" y="121" width="4" height="1" fill="#000"/>
<rect x="563" y="124" width="4" height="1" fill="#000"/>
<rect x="563" y="126" width="4" height="1" fill="#000"/>
<rect x="563" y="129" width="9" height="1" fill="#000"/>
<rect x="563" y="132" width="4" height="1" fill="#000"/>
<rect x="563" y="134" width="4" height="1" fill="#000"/>
<rect x="563" y="137" width="4" height="1" fill="#000"/>
<rect x="563" y="144" width="4" height="1" fill="#000"/>
<rect x="563" y="150" width="4" height="1" fill="#000"/>
<rect x="563" y="156" width="4" height="1" fill="#000"/>
<rect x="563" y="162" width="4" height="1" fill="#000"/>
<rect x="563" y="168" width="9" height="1" fill="#000"/>
<rect x="563" y="175" width="4" height="1" fill="#000"/>
<rect x="563" y="181" width="4" height="1" fill="#000"/>
<rect x="563" y="187" width="4" height="1" fill="#000"/>
<rect x="563" y="193" width="4" height="1" fill="#000"/>
<rect x="563" y="200" width="9" height="1" fill="#000"/>
<rect x="563" y="206" width="4" height="1" fill="#000"/>
<rect x="563" y="212" width="4" height="1" fill="#000"/>
<rect x="563" y="218" width="4" height="1" fill="#000"/>
<rect x="563" y="224" width="4" height="1" fill="#000"/>
<rect x="563" y="230" width="9" height="1" fill="#000"/>
<rect x="563" y="237" width="4" height="1" fill="#000"/>
<rect x="563" y="243" width="4" height="1" fill="#000"/>
<rect x="563" y="249" width="4" height="1" fill="#000"/>
<rect x="563" y="255" width="4" height="1" fill="#000"/>
<rect x="563" y="262" width="9" height="1" fill="#000"/>
<rect x="563" y="268" width="4" height="1" fill="#000"/>
<rect x="563" y="274" width="4" height="1" fill="#000"/>
<rect x="563" y="280" width="4" height="1" fill="#000"/>
<rect x="563" y="286" width="4" height="1" fill="#000"/>
<rect x="563" y="292" width="9" height="1" fill="#000"/>
<rect x="563" y="299" width="4" height="1" fill="#000"/>
<rect x="563" y="305" width="4" height="1" fill="#000"/>
<rect x="563" y="311" width="4" height="1" fill="#000"/>
<rect x="563" y="317" width="4" height="1" fill="#000"/>
<rect x="563" y="324" width="9" height="1" fill="#000"/>
<rect x="563" y="330" width="4" height="1" fill="#000"/>
<rect x="563" y="336" width="4" height="1" fill="#000"/>
<rect x="563" y="342" width="4" height="1" fill="#000"/>
<rect x="563" y="348" width="4" height="1" fill="#000"/>
<rect x="563" y="354" width="9" height="1" fill="#000"/>
<rect x="563" y="361" width="4" height="1" fill="#000"/>
<rect x="563" y="367" width="4" height="1" fill="#000"/>
<rect x="563" y="373" width="4" height="1" fill="#000"/>
<rect x="563" y="379" width="4" height="1" fill="#000"/>
<rect x="563" y="386" width="9" height="1" fill="#000"/>
<rect x="563" y="392" width="4" height="1" fill="#000"/>
<rect x="563" y="398" width="4" height="1" fill="#000"/>
<rect x="563" y="404" width="4" height="1" fill="#000"/>
<rect x="563" y="410" width="4" height="1" fill="#000"/>
<rect x="563" y="416" width="9" height="1" fill="#000"/>
<rect x="563" y="423" width="4" height="1" fill="#000"/>
<rect x="563" y="429" width="4" height="1" fill="#000"/>
<rect x="563" y="435" width="4" height="1" fill="#000"/>
<rect x="563" y="441" width="4" height="1" fill="#000"/>
<rect x="563" y="448" width="9" height="1" fill="#000"/>
<rect x="563" y="454" width="4" height="1" fill="#000"/>
<rect x="563" y="460" width="4" height="1" fill="#000"/>
<rect x="563" y="466" width="4" height="1" fill="#000"/>
<rect x="563" y="472" width="4" height="1" fill="#000"/>
<rect x="563" y="478" width="9" height="1" fill="#000"/>
<rect x="563" y="485" width="4" height="1" fill="#000"/>
<rect x="563" y="491" width="4" height="1" fill="#000"/>
<rect x="563" y="497" width="4" height="1" fill="#000"/>
<rect x="563" y="503" width="4" height="1" fill="#000"/>
<rect x="563" y="514" width="4" height="1" fill="#000"/>
<rect x="563" y="518" width="9" height="1" fill="#000"/>
<rect x="563" y="522" width="4" height="1" fill="#000"/>
<rect x="563" y="526" width="4" height="1" fill="#000"/>
<rect x="563" y="530" width="4" height="1" fill="#000"/>
<rect x="563" y="534" width="4" height="1" fill="#000"/>
<rect x="563" y="538" width="9" height="1" fill="#000"/>
<rect x="563" y="542" width="4" height="1" fill="#000"/>
<rect x="563" y="546" width="4" height="1" fill="#000"/>
<rect x="563" y="550" width="4" height="1" fill="#000"/>
<rect x="563" y="554" width="4" height="1" fill="#000"/>
<rect x="563" y="558" width="9" height="1" fill="#000"/>
<rect x="563" y="562" width="4" height="1" fill="#000"/>
<rect x="563" y="566" width="4" height="1" fill="#000"/>
<rect x="563" y="571" width="4" height="1" fill="#000"/>
<rect x="563" y="575" width="4" height="1" fill="#000"/>
<rect x="563" y="579" width="9" height="1" fill="#000"/>
<rect x="563" y="583" width="4" height="1" fill="#000"/>
<rect x="563" y="587" width="4" height="1" fill="#000"/>
<rect x="563" y="591" width="4" height="1" fill="#000"/>
<rect x="563" y="595" width="4" height="1" fill="#000"/>
<rect x="563" y="599" width="9" height="1" fill="#000"/>
<rect x="563" y="603" width="4" height="1" fill="#000"/>
<rect x="563" y="607" width="4" height="1" fill="#000"/>
<rect x="563" y="611" width="4" height="1" fill="#000"/>
<rect x="563" y="615" width="4" height="1" fill="#000"/>
<rect x="563" y="619" width="9" height="1" fill="#000"/>
<rect x="563" y="623" width="4" height="1" fill="#000"/>
<rect x="563" y="627" width="4" height="1" fill="#000"/>
<rect x="563" y="631" width="4" height="1" fill="#000"/>
<rect x="563" y="635" width="4" height="1" fill="#000"/>
<rect x="563" y="639" width="9" height="1" fill="#000"/>
<rect x="563" y="643" width="4" height="1" fill="#000"/>
</g>
<text x="609" y="4.5" font-size="12" fill="#000" text-anchor="end">2500</text>
<text x="609" y="17.5" font-size="12" fill="#000" text-anchor="end">2000</text>
<text x="609" y="30.5" font-size="12" fill="#000" text-anchor="end">1500</text>
<text x="609" y="43.5" font-size="12" fill="#000" text-anchor="end">1000</text>
<text x="609" y="56.5" font-size="12" fill="#000" text-anchor="end">500</text>
<text x="609" y="69.5" font-size="12" fill="#000" text-anchor="end">0</text>
<text x="609" y="82.5" font-size="12" fill="#000" text-anchor="end">-500</text>
<text x="609" y="95.5" font-size="12" fill="#000" text-anchor="end">-1000</text>
<text x="609" y="108.5" font-size="12" fill="#000" text-anchor="end">-1500</text>
<text x="609" y="121.5" font-size="12" fill="#000" text-anchor="end">-2000</text>
<text x="609" y="134.5" font-size="12" fill="#000" text-anchor="end">-2500</text>
<text x="609" y="174.0" font-size="12" fill="#000" text-anchor="end">95000</text>
<text x="609" y="205.0" font-size="12" fill="#000" text-anchor="end">90000</text>
<text x="609" y="236.0" font-size="12" fill="#000" text-anchor="end">85000</text>
<text x="609" y="267.0" font-size="12" fill="#000" text-anchor="end">80000</text>
<text x="609" y="298.0" font-size="12" fill="#000" text-anchor="end">75000</text>
<text x="609" y="329.0" font-size="12" fill="#000" text-anchor="end">70000</text>
<text x="609" y="360.0" font-size="12" fill="#000" text-anchor="end">65000</text>
<text x="609" y="391.0" font-size="12" fill="#000" text-anchor="end">60000</text>
<text x="609" y="422.0" font-size="12" fill="#000" text-anchor="end">55000</text>
<text x="609" y="453.0" font-size="12" fill="#000" text-anchor="end">50000</text>
<text x="609" y="484.0" font-size="12" fill="#000" text-anchor="end">45000</text>
<text x="609" y="543.7" font-size="12" fill="#000" text-anchor="end">25000</text>
<text x="609" y="563.9000000000001" font-size="12" fill="#000" text-anchor="end">20000</text>
<text x="609" y="584.1" font-size="12" fill="#000" text-anchor="end">15000</text>
<text x="609" y="604.3000000000001" font-size="12" fill="#000" text-anchor="end">10000</text>
<text x="609" y="624.5" font-size="12" fill="#000" text-anchor="end">5000</text>
<text x="609" y="644.7" font-size="12" fill="#000" text-anchor="end">0</text>
<rect x="568" y="194" width="44" height="16" fill="#000"/>
<text x="569" y="205.5" font-size="11" fill="#00ff00" text-anchor="start">89300.00</text>
<g shape-rendering="crispEdges"><rect x="566" y="637" width="27" height="12" fill="#fff"/><rect x="565" y="636" width="1" height="13" fill="#000"/><rect x="593" y="636" width="1" height="13" fill="#000"/><rect x="565" y="636" width="29" height="1" fill="#000"/></g>
<text x="566.5" y="646" font-size="10" fill="#000" textLength="25" lengthAdjust="spacingAndGlyphs">x1000</text>
<g shape-rendering="crispEdges">
<rect x="0" y="649" width="564" height="1" fill="#000"/>
<rect x="564" y="651" width="48" height="14" fill="#f0f0f0"/>
<rect x="35" y="649" width="1" height="16" fill="#000"/>
<rect x="73" y="649" width="1" height="16" fill="#000"/>
<rect x="136" y="649" width="1" height="16" fill="#000"/>
<rect x="172" y="649" width="1" height="16" fill="#000"/>
<rect x="206" y="649" width="1" height="16" fill="#000"/>
<rect x="241" y="649" width="1" height="16" fill="#000"/>
<rect x="277" y="649" width="1" height="16" fill="#000"/>
<rect x="316" y="649" width="1" height="16" fill="#000"/>
<rect x="352" y="649" width="1" height="16" fill="#000"/>
<rect x="386" y="649" width="1" height="16" fill="#000"/>
<rect x="426" y="649" width="1" height="16" fill="#000"/>
<rect x="460" y="649" width="1" height="16" fill="#000"/>
<rect x="499" y="649" width="1" height="16" fill="#000"/>
<rect x="533" y="649" width="1" height="16" fill="#000"/>
<rect x="102" y="650" width="1" height="1" fill="#000"/>
</g>
<text x="2" y="662.5" font-size="12" fill="#000" text-anchor="start">Nov</text>
<text x="37" y="662.5" font-size="12" fill="#000" text-anchor="start">Dec</text>
<text x="75" y="662.5" font-size="12" fill="#000" text-anchor="start">2025</text>
<text x="138" y="662.5" font-size="12" fill="#000" text-anchor="start">Mar</text>
<text x="174" y="662.5" font-size="12" fill="#000" text-anchor="start">Apr</text>
<text x="208" y="662.5" font-size="12" fill="#000" text-anchor="start">May</text>
<text x="243" y="662.5" font-size="12" fill="#000" text-anchor="start">Jun</text>
<text x="279" y="662.5" font-size="12" fill="#000" text-anchor="start">Jul</text>
<text x="318" y="662.5" font-size="12" fill="#000" text-anchor="start">Aug</text>
<text x="354" y="662.5" font-size="12" fill="#000" text-anchor="start">Sep</text>
<text x="388" y="662.5" font-size="12" fill="#000" text-anchor="start">Oct</text>
<text x="428" y="662.5" font-size="12" fill="#000" text-anchor="start">Nov</text>
<text x="462" y="662.5" font-size="12" fill="#000" text-anchor="start">Dec</text>
<text x="501" y="662.5" font-size="12" fill="#000" text-anchor="start">2026</text>
</svg></body></html>
